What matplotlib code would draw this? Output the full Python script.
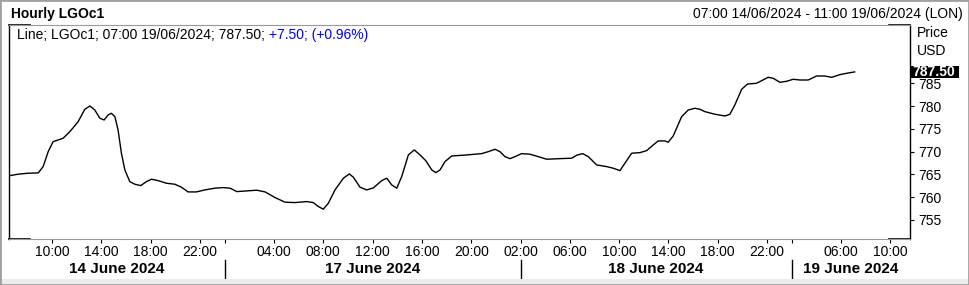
import matplotlib
matplotlib.use("Agg")
import matplotlib.pyplot as plt
import matplotlib.transforms as mtransforms
from matplotlib.patches import Rectangle
from matplotlib.lines import Line2D

plt.rcParams['font.family'] = ['Liberation Sans', 'DejaVu Sans']

# position on the trading-hour axis (0 = 07:00 14/06/2024, overnight gaps removed)
bar_pos = [-0.57, 0.24, 1.05, 1.87, 2.27, 2.68, 3.08, 3.49, 3.89, 4.44, 5.11, 5.65,
           6.06, 6.46, 6.87, 7.22, 7.54, 7.81, 8.09, 8.35, 8.62, 8.90, 9.30, 9.71,
           10.19, 10.65, 11.05, 11.60, 12.27, 12.95, 13.49, 14.03, 14.70, 15.39,
           16.20, 16.87, 17.44, 17.98, 18.79, 19.60, 20.28, 21.09, 21.90, 22.71,
           23.66, 24.19, 24.60, 25.00, 25.41, 25.95, 26.63, 27.11, 27.44, 27.98,
           28.52, 29.06, 29.74, 30.15, 30.55, 30.96, 31.36, 31.90, 32.38, 32.85,
           33.31, 33.80, 34.12, 34.47, 34.87, 35.42, 36.63, 37.85, 38.39, 38.93,
           39.33, 39.74, 40.15, 40.55, 41.09, 41.77, 42.44, 43.12, 44.20, 45.15,
           45.56, 46.04, 46.50, 47.18, 47.99, 48.52, 49.07, 49.47, 50.02, 50.69,
           51.23, 51.77, 52.17, 52.72, 52.98, 53.39, 54.07, 54.61, 55.15, 55.56,
           55.96, 56.77, 57.58, 57.99, 58.39, 58.94, 59.42, 60.15, 60.56, 61.09,
           61.50, 62.04, 62.59, 63.12, 63.67, 64.34, 65.02, 65.69, 66.24, 66.91,
           67.45, 68.11]
price = [764.66, 765.03, 765.25, 765.31, 766.70, 769.99, 772.18, 772.56, 772.93,
         774.38, 776.57, 779.29, 780.02, 779.14, 777.32, 776.94, 778.04, 778.41,
         777.67, 774.75, 769.64, 765.97, 763.40, 762.83, 762.53, 763.40, 763.93,
         763.62, 763.05, 762.83, 762.18, 761.14, 761.14, 761.58, 761.96, 762.09,
         761.96, 761.21, 761.36, 761.52, 761.14, 759.89, 758.88, 758.80, 759.02,
         758.80, 757.92, 757.35, 758.66, 761.58, 764.15, 765.09, 764.37, 762.18,
         761.58, 762.02, 763.62, 764.15, 762.68, 761.96, 764.50, 769.26, 770.36,
         769.26, 768.01, 765.97, 765.38, 765.97, 767.79, 769.04, 769.26, 769.55,
         769.99, 770.51, 769.99, 768.89, 768.45, 768.89, 769.55, 769.42, 768.89,
         768.32, 768.45, 768.54, 769.20, 769.55, 768.89, 767.07, 766.70, 766.35,
         765.82, 767.44, 769.64, 769.77, 770.21, 771.46, 772.34, 772.34, 772.05,
         773.43, 777.67, 779.14, 779.51, 779.29, 778.77, 778.20, 777.82, 778.20,
         780.24, 783.68, 784.84, 785.00, 785.57, 786.31, 786.10, 785.22, 785.44,
         785.88, 785.72, 785.72, 786.60, 786.60, 786.31, 786.89, 787.19, 787.50]

# trading days: bar_pos = hour + offset, first bar of each day
day_labels = ['14 June 2024', '17 June 2024', '18 June 2024', '19 June 2024']
day_offsets = [-7, 17, 39, 61]
day_starts = [17, 41, 63]
tick_hours = [[10, 14, 18, 22], [4, 8, 12, 16, 20], [2, 6, 10, 14, 18, 22], [6, 10]]

last_price = 787.50
change = 7.50
change_pct = 0.96
price_ticks = [755, 760, 765, 770, 775, 780, 785]

W, H = 969, 285
fig = plt.figure(figsize=(W / 100, H / 100), dpi=100)
fig.patch.set_facecolor('white')

ax = fig.add_axes([9 / W, 46 / H, 901 / W, 214 / H])
ax.plot(bar_pos, price, color='black', lw=1.0)
ax.set_xlim(-0.5, 72.6)
ax.set_ylim(750.8, 797.8)

# right price axis
ax.yaxis.tick_right()
ax.set_yticks(price_ticks)
ax.tick_params(axis='y', direction='out', length=3, width=0.8, pad=3, labelsize=10)

# hour ticks
xt, xl = [], []
for off, hrs in zip(day_offsets, tick_hours):
    for h in hrs:
        xt.append(h + off)
        xl.append('%02d:00' % h)
ax.set_xticks(xt)
ax.set_xticklabels(xl)
ax.set_xticks(day_starts, minor=True)
ax.tick_params(axis='x', which='both', direction='out', length=3, width=0.8,
               pad=1.5, labelsize=10)

for s in ['top', 'bottom']:
    ax.spines[s].set_color('#999999')
for s in ['left', 'right']:
    ax.spines[s].set_color('black')
    ax.spines[s].set_linewidth(1)

# black corners on the frame
corner = 21 / 901
for x0, x1 in [(0, corner), (1 - corner, 1)]:
    for y in [0, 1]:
        ax.add_line(Line2D([x0, x1], [y, y], transform=ax.transAxes, color='black',
                           lw=1.2, clip_on=False))

# date row
xmin, xmax = ax.get_xlim()
bounds = [xmin] + day_starts + [xmax]
trans = ax.get_xaxis_transform()
for i, lab in enumerate(day_labels):
    ax.text((bounds[i] + bounds[i + 1]) / 2, -0.138, lab, transform=trans,
            ha='center', va='center', fontsize=11, fontweight='bold')
for d in day_starts:
    ax.plot([d, d], [-0.098, -0.182], transform=trans, color='black', lw=1,
            clip_on=False)

# last price box
bt = mtransforms.blended_transform_factory(ax.transAxes, ax.transData)
ax.add_patch(Rectangle((1.0, last_price - 1.3), 49 / 901, 2.6, transform=bt,
                       facecolor='black', edgecolor='none', clip_on=False, zorder=5))
ax.text(1.0 + 2 / 901, last_price, '%.2f' % last_price, transform=bt, ha='left',
        va='center', color='white', fontsize=10, fontweight='bold', zorder=6)

# legend line
t1 = ax.text(8 / 901, 0.953, 'Line; LGOc1; 07:00 19/06/2024; %.2f;' % last_price,
             transform=ax.transAxes, ha='left', va='center', fontsize=10)
ax.annotate('+%.2f; (+%.2f%%)' % (change, change_pct), xy=(1, 0.5), xycoords=t1,
            xytext=(3, 0), textcoords='offset points', ha='left', va='center',
            fontsize=10, color='#0000ee')

# header
fig.text(11 / W, 1 - 14 / H, 'Hourly LGOc1', ha='left', va='center', fontsize=10,
         fontweight='bold')
fig.text(963 / W, 1 - 14 / H, '07:00 14/06/2024 - 11:00 19/06/2024 (LON)',
         ha='right', va='center', fontsize=10)
fig.text(917 / W, 1 - 33 / H, 'Price', ha='left', va='center', fontsize=10)
fig.text(917 / W, 1 - 51 / H, 'USD', ha='left', va='center', fontsize=10)

# outer window frame and bottom strip
fig.patches.append(Rectangle((0, 0), 1, 6 / H, transform=fig.transFigure,
                             facecolor='#ececec', edgecolor='none'))
fig.patches.append(Rectangle((0, 0), 1, 1, transform=fig.transFigure, fill=False,
                             edgecolor='#a0a0a0', lw=2))

fig.savefig('out.png', dpi=100)
